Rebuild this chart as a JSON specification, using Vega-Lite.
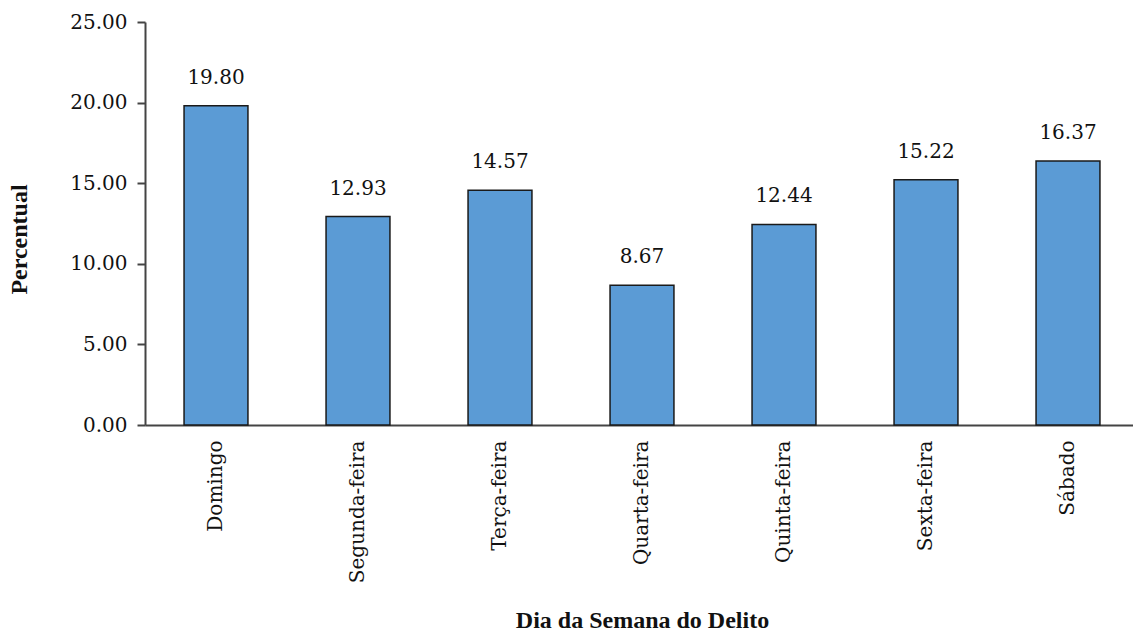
{
  "$schema": "https://vega.github.io/schema/vega-lite/v6.json",
  "autosize": "none",
  "padding": {"left": 145, "top": 22, "right": 0, "bottom": 210},
  "width": 994,
  "height": 403,
  "background": "white",
  "config": {
    "view": {"stroke": null},
    "font": "DejaVu Serif"
  },
  "data": {
    "values": [
      {"dia": "Domingo", "pct": 19.80},
      {"dia": "Segunda-feira", "pct": 12.93},
      {"dia": "Terça-feira", "pct": 14.57},
      {"dia": "Quarta-feira", "pct": 8.67},
      {"dia": "Quinta-feira", "pct": 12.44},
      {"dia": "Sexta-feira", "pct": 15.22},
      {"dia": "Sábado", "pct": 16.37}
    ]
  },
  "encoding": {
    "x": {
      "field": "dia",
      "type": "nominal",
      "sort": null,
      "scale": {"paddingInner": 0.55, "paddingOuter": 0.275},
      "axis": {
        "title": "Dia da Semana do Delito",
        "titleFont": "Liberation Serif",
        "titleFontSize": 24,
        "titleFontWeight": "bold",
        "titleColor": "#111",
        "titleY": 195,
        "titleBaseline": "middle",
        "labelAngle": -90,
        "labelFont": "DejaVu Serif",
        "labelFontWeight": "normal",
        "labelFontSize": 20,
        "labelColor": "#111",
        "labelPadding": 15,
        "ticks": false,
        "domainColor": "#444",
        "domainWidth": 2
      }
    },
    "y": {
      "field": "pct",
      "type": "quantitative",
      "scale": {"domain": [0, 25], "nice": false},
      "axis": {
        "title": "Percentual",
        "titleFont": "Liberation Serif",
        "titleFontSize": 24,
        "titleFontWeight": "bold",
        "titleColor": "#111",
        "titleAngle": -90,
        "titleX": -126,
        "titleY": 217,
        "titleAlign": "center",
        "titleBaseline": "middle",
        "values": [0, 5, 10, 15, 20, 25],
        "format": ".2f",
        "labelFont": "DejaVu Serif",
        "labelFontSize": 20,
        "labelColor": "#111",
        "labelPadding": 10,
        "tickSize": 8,
        "tickColor": "#444",
        "tickWidth": 2,
        "domainColor": "#444",
        "domainWidth": 2,
        "grid": false
      }
    }
  },
  "layer": [
    {
      "mark": {"type": "bar", "color": "#5b9bd5", "stroke": "#1a1a1a", "strokeWidth": 1.5}
    },
    {
      "mark": {"type": "text", "font": "DejaVu Serif", "fontSize": 20, "color": "#111", "baseline": "alphabetic", "dy": -22},
      "encoding": {
        "text": {"field": "pct", "type": "quantitative", "format": ".2f"}
      }
    }
  ]
}
